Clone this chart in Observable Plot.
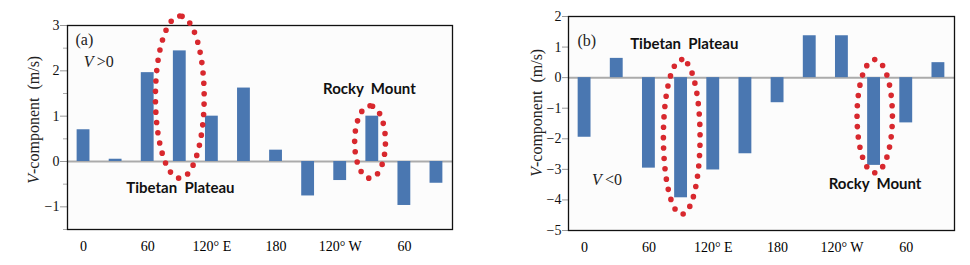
<!DOCTYPE html>
<html><head><meta charset="utf-8">
<script src="https://cdn.jsdelivr.net/npm/d3@7"></script>
<script src="https://cdn.jsdelivr.net/npm/@observablehq/plot@0.6"></script>
<style>
body{margin:0;background:#fff;}
#wrap{display:flex;width:970px;height:265px;gap:10px;}
#wrap svg{overflow:visible;}
</style></head><body><div id="wrap"></div>
<script>
// Longitude bins (index 0..11 = 0°,30°,...,330°)
const longitudes = [0,30,60,90,120,150,180,210,240,270,300,330];
const tickIndex = [0,2,4,6,8,10];
const tickLabels = ["0","60","120\u00b0 E","180","120\u00b0 W","60"];
// V-component (m/s)
const vPositive = [0.70,0.05,1.96,2.44,1.00,1.62,0.25,-0.76,-0.42,1.00,-0.97,-0.48];
const vNegative = [-1.95,0.63,-2.96,-3.93,-3.02,-2.49,-0.82,1.37,1.37,-2.87,-1.48,0.49];
const yTicksA = [-1,0,1,2,3];
const yMinorA = [-1.5,-0.5,0.5,1.5,2.5];
const yTicksB = [-5,-4,-3,-2,-1,0,1,2];
// highlight ellipses (center / radii in index & data units)
const ellipsesA = [
  {id:"tp", cx:3.0, rx:0.76, cy:1.42, ry:1.79},
  {id:"rm", cx:8.93, rx:0.48, cy:0.43, ry:0.80}
];
const ellipsesB = [
  {id:"tp", cx:3.02, rx:0.57, cy:-1.94, ry:2.53},
  {id:"rm", cx:9.02, rx:0.55, cy:-1.26, ry:1.85}
];
const regionLabelsA = [
  {text:"Tibetan\u00a0 Plateau", x:3.02, y:-0.59},
  {text:"Rocky\u00a0 Mount", x:8.91, y:1.60}
];
const regionLabelsB = [
  {text:"Tibetan\u00a0 Plateau", x:3.1, y:1.11},
  {text:"Rocky\u00a0 Mount", x:9.03, y:-3.5}
];
const panelTagsA = [{text:"(a)", x:-0.25, y:2.68},{text:"V\u2009>0", x:0.01, y:2.20}];
const panelTagsB = [{text:"(b)", x:-0.22, y:1.20},{text:"V\u2009<0", x:0.23, y:-3.36}];
const yLabel = "V-component\u00a0 (m/s)";

const serif = "Liberation Serif";
const barColor = "#4a77b1";
const dotColor = "#d8282e";

function ellipsePoints(list){
  const pts = [];
  for (const e of list) {
    const n = 160;
    for (let k = 0; k < n; k++) {
      const t = Math.PI/2 + 2*Math.PI*k/n;
      pts.push({id:e.id, x:e.cx + e.rx*Math.cos(t), y:e.cy + e.ry*Math.sin(t)});
    }
  }
  return pts;
}

function italicizeV(svg){
  d3.select(svg).selectAll("text").each(function(){
    const el = this;
    const t = el.textContent;
    if (el.childNodes.length === 1 && el.firstChild.nodeType === 3 && /^V[\u2009<>\-]/.test(t)) {
      el.textContent = "";
      d3.select(el).append("tspan").attr("font-style","italic").text("V");
      d3.select(el).append("tspan").text(t.slice(1));
    }
  });
}

function panel(values, cfg){
  const data = values.map((v,i)=>({i, lon:longitudes[i], v}));
  const marks = [
    Plot.frame({fill:"#fcfcfc", stroke:null}),
    Plot.axisX(tickIndex, {tickSize:0, tickPadding:12, tickFormat: d => tickLabels[tickIndex.indexOf(d)], fontSize:14, fontFamily:serif, label:null}),
    Plot.axisY(cfg.yTicks, {tickSize:cfg.tickSize, tickPadding:1, stroke:"#999", fill:"#111", fontSize:14, fontFamily:serif, label:null, tickFormat: d => d < 0 ? "\u2212" + Math.abs(d) : String(d)})
  ];
  if (cfg.yMinor) marks.push(Plot.axisY(cfg.yMinor, {tickSize:4, stroke:"#aaa", tickFormat: () => "", label:null}));
  marks.push(
    Plot.ruleY([0], {stroke:"#ababab", strokeWidth:2}),
    Plot.rectY(data, {x1: d => d.i - 0.2, x2: d => d.i + 0.2, y1: 0, y2: "v", fill: barColor}),
    Plot.frame({stroke:"#111", strokeWidth:1.3}),
    Plot.line(ellipsePoints(cfg.ellipses), {x:"x", y:"y", z:"id", curve:"linear-closed", stroke:dotColor, strokeWidth:5.6, strokeDasharray:"0 10.4", strokeLinecap:"round"}),
    Plot.text(cfg.regionLabels, {x:"x", y:"y", text:"text", fontFamily:"Lato", fontWeight:"bold", fontSize:15, fill:"#111"}),
    Plot.text(cfg.tags, {x:"x", y:"y", text:"text", textAnchor:"start", fontSize:16, fontFamily:serif, fill:"#222"}),
    Plot.text([yLabel], {frameAnchor:"left", y: cfg.labelY, text: d => d, rotate:-90, textAnchor:"middle", dx:-cfg.labelOffset, fontSize:16, fontFamily:serif, fill:"#222"})
  );
  const svg = Plot.plot({
    width:480, height:265,
    marginLeft:cfg.ml, marginRight:cfg.mr, marginTop:cfg.mt, marginBottom:cfg.mb,
    x:{type:"linear", domain:[-0.5, 11.5]},
    y:{domain:cfg.yDomain},
    style:{fontFamily:serif, fontSize:"14px"},
    marks
  });
  italicizeV(svg);
  return svg;
}

const wrap = document.getElementById("wrap");
wrap.append(panel(vPositive, {
  yDomain:[-1.5, 3], yTicks:yTicksA, yMinor:yMinorA, tickSize:7,
  ellipses:ellipsesA, regionLabels:regionLabelsA, tags:panelTagsA,
  ml:67, mr:28, mt:25, mb:36, labelY:0.92, labelOffset:34
}));
wrap.append(panel(vNegative, {
  yDomain:[-5, 2], yTicks:yTicksB, yMinor:null, tickSize:6,
  ellipses:ellipsesB, regionLabels:regionLabelsB, tags:panelTagsB,
  ml:78, mr:16, mt:16, mb:35, labelY:-1.15, labelOffset:32
}));
</script></body></html>
